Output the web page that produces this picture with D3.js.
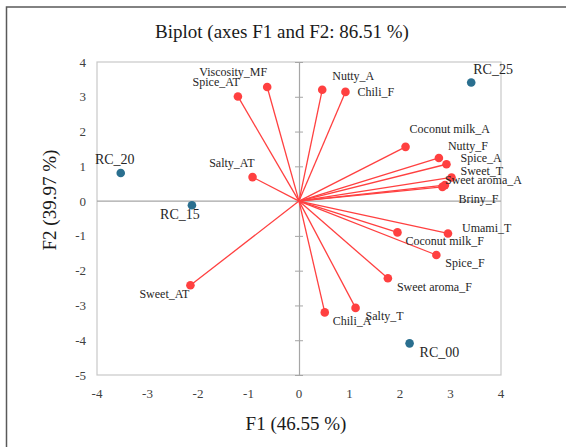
<!DOCTYPE html>
<html lang="en">
<head>
  <meta charset="UTF-8">
  <title>Biplot</title>
  <style>
    body { margin: 0; background: #fff; }
    #chart { display: block; }
    text { font-family: "Liberation Serif", "Times New Roman", serif; }
  </style>
</head>
<body>
  <svg id="chart"></svg>

  <script src="https://d3js.org/d3.v7.min.js"></script>
  <script>
    // Chart dimensions
    const width = 566;
    const height = 447;
    const plot = { left: 97, right: 501, top: 62, bottom: 375 };

    // Variables (red vectors)
    const varNames = ["Viscosity_MF", "Spice_AT", "Nutty_A", "Chili_F", "Salty_AT",
      "Coconut milk_A", "Nutty_F", "Spice_A", "Sweet_T", "Sweet aroma_A", "Briny_F",
      "Umami_T", "Coconut milk_F", "Spice_F", "Sweet aroma_F", "Salty_T", "Chili_A", "Sweet_AT"];
    const varF1 = [-0.63, -1.21, 0.46, 0.92, -0.92, 2.11, 2.77, 2.92, 3.02, 2.89, 2.84,
      2.95, 1.95, 2.72, 1.76, 1.12, 0.51, -2.15];
    const varF2 = [3.28, 3.01, 3.20, 3.14, 0.69, 1.56, 1.24, 1.06, 0.68, 0.46, 0.41,
      -0.93, -0.90, -1.55, -2.22, -3.07, -3.20, -2.42];

    // Observations (blue points)
    const obsNames = ["RC_25", "RC_20", "RC_15", "RC_00"];
    const obsF1 = [3.41, -3.53, -2.12, 2.19];
    const obsF2 = [3.41, 0.81, -0.12, -4.09];

    // Axis ticks
    const xTicks = [-4, -3, -2, -1, 0, 1, 2, 3, 4];
    const yTicks = [-5, -4, -3, -2, -1, 0, 1, 2, 3, 4];

    // label placement relative to the dot: [dx, dy, anchor]
    const labelPos = {
      "Viscosity_MF": [0, -11, "end"],
      "Spice_AT": [2, -10.5, "end"],
      "Nutty_A": [10, -9.5, "start"],
      "Chili_F": [12, 4, "start"],
      "Salty_AT": [2, -10, "end"],
      "Coconut milk_A": [4, -14, "start"],
      "Nutty_F": [9, -8, "start"],
      "Spice_A": [14, -2.5, "start"],
      "Sweet_T": [9, -2, "start"],
      "Sweet aroma_A": [0, -1, "start"],
      "Briny_F": [16, 16, "start"],
      "Umami_T": [14, -1.5, "start"],
      "Coconut milk_F": [8, 12.5, "start"],
      "Spice_F": [9, 12.3, "start"],
      "Sweet aroma_F": [9, 12.4, "start"],
      "Salty_T": [10, 12.3, "start"],
      "Chili_A": [8, 12.7, "start"],
      "Sweet_AT": [-1, 12.3, "end"],
      "RC_25": [2, -8.3, "start"],
      "RC_20": [-6, -9.4, "middle"],
      "RC_15": [-12, 13.3, "middle"],
      "RC_00": [10, 14, "start"]
    };

    const varData = varNames.map((n, i) => ({ name: n, x: varF1[i], y: varF2[i] }));
    const obsData = obsNames.map((n, i) => ({ name: n, x: obsF1[i], y: obsF2[i] }));

    const xScale = d3.scaleLinear().domain([-4, 4]).range([plot.left, plot.right]);
    const yScale = d3.scaleLinear().domain([-5, 4]).range([plot.bottom, plot.top]);

    const svg = d3.select("#chart")
      .attr("width", width)
      .attr("height", height);

    // outer frame (runs off the right and bottom edges)
    svg.append("rect")
      .attr("x", 6.5).attr("y", 7)
      .attr("width", 600).attr("height", 500)
      .attr("fill", "none")
      .attr("stroke", "#595959")
      .attr("stroke-width", 1.5);

    // title
    svg.append("text")
      .attr("x", 282).attr("y", 38)
      .attr("text-anchor", "middle")
      .attr("font-size", 19)
      .attr("fill", "#1a1a1a")
      .text("Biplot (axes F1 and F2: 86.51 %)");

    // plot border
    svg.append("rect")
      .attr("x", plot.left).attr("y", plot.top)
      .attr("width", plot.right - plot.left)
      .attr("height", plot.bottom - plot.top)
      .attr("fill", "none")
      .attr("stroke", "#c8c8c8")
      .attr("stroke-width", 1.2);

    // zero lines
    svg.append("line")
      .attr("x1", plot.left).attr("x2", plot.right)
      .attr("y1", yScale(0)).attr("y2", yScale(0))
      .attr("stroke", "#a6a6a6").attr("stroke-width", 1.2);

    // vertical axis through x=0 with crossing ticks
    const yAxis = svg.append("g")
      .attr("transform", `translate(${xScale(0)},0)`)
      .call(d3.axisLeft(yScale).tickValues(yTicks).tickSize(4).tickFormat(""));
    yAxis.select(".domain").attr("stroke", "#a6a6a6").attr("stroke-width", 1.2);
    yAxis.selectAll(".tick line").attr("stroke", "#a6a6a6").attr("x2", 4).attr("x1", -4);

    // tick labels
    svg.append("g").selectAll("text")
      .data(yTicks)
      .join("text")
      .attr("x", 86)
      .attr("y", d => yScale(d) + 4.5)
      .attr("text-anchor", "end")
      .attr("font-size", 13)
      .attr("fill", "#404040")
      .text(d => d);

    svg.append("g").selectAll("text")
      .data(xTicks)
      .join("text")
      .attr("x", d => xScale(d))
      .attr("y", 398)
      .attr("text-anchor", "middle")
      .attr("font-size", 13)
      .attr("fill", "#404040")
      .text(d => d);

    // axis titles
    svg.append("text")
      .attr("x", 296).attr("y", 430)
      .attr("text-anchor", "middle")
      .attr("font-size", 19)
      .attr("fill", "#1a1a1a")
      .text("F1 (46.55 %)");

    svg.append("text")
      .attr("transform", `translate(56,${yScale(0) - 1}) rotate(-90)`)
      .attr("text-anchor", "middle")
      .attr("font-size", 19)
      .attr("fill", "#1a1a1a")
      .text("F2 (39.97 %)");

    // variable vectors
    svg.append("g").selectAll("line")
      .data(varData)
      .join("line")
      .attr("x1", xScale(0)).attr("y1", yScale(0))
      .attr("x2", d => xScale(d.x)).attr("y2", d => yScale(d.y))
      .attr("stroke", "#ff4040")
      .attr("stroke-width", 1.3);

    svg.append("g").selectAll("circle")
      .data(varData)
      .join("circle")
      .attr("cx", d => xScale(d.x)).attr("cy", d => yScale(d.y))
      .attr("r", 4.3)
      .attr("fill", "#ff4040");

    // observations
    svg.append("g").selectAll("circle")
      .data(obsData)
      .join("circle")
      .attr("cx", d => xScale(d.x)).attr("cy", d => yScale(d.y))
      .attr("r", 4.3)
      .attr("fill", "#2a6f8f");

    // labels
    const allData = varData.concat(obsData);
    svg.append("g").selectAll("text")
      .data(allData)
      .join("text")
      .attr("x", d => xScale(d.x) + labelPos[d.name][0])
      .attr("y", d => yScale(d.y) + labelPos[d.name][1])
      .attr("text-anchor", d => labelPos[d.name][2])
      .attr("font-size", d => obsNames.includes(d.name) ? 14 : 12)
      .attr("fill", "#262626")
      .text(d => d.name);
  </script>
</body>
</html>
